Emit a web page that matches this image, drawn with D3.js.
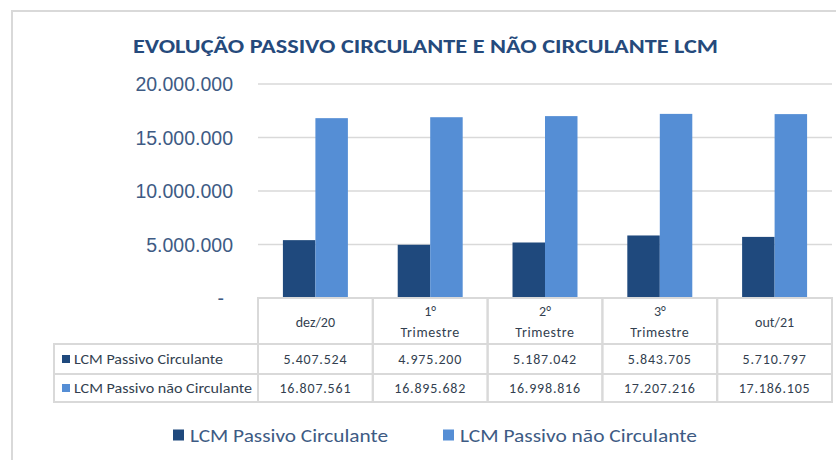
<!DOCTYPE html>
<html>
<head>
<meta charset="utf-8">
<script src="https://cdn.jsdelivr.net/npm/d3@7"></script>
<style>
  body { margin: 0; background: #fff; }
  svg { display: block; font-family: Carlito, Calibri, "Open Sans", sans-serif; }
  .grid line { stroke: #d9d9d9; stroke-width: 1.5; }
  .y.axis text { fill: #3e5b84; font-size: 19.5px; }
  .cell { fill: none; stroke: #d9d9d9; stroke-width: 2; }
  .tbl text { fill: #333f50; font-size: 14px; }
  .tbl .num { letter-spacing: 0.8px; }
</style>
</head>
<body>
<svg id="chart" width="836" height="460"></svg>
<script>
  // data
  const categories = ['dez/20', '1°\nTrimestre', '2°\nTrimestre', '3°\nTrimestre', 'out/21'];
  const seriesNames = ['LCM Passivo Circulante', 'LCM Passivo não Circulante'];
  const circulante = [5407524, 4975200, 5187042, 5843705, 5710797];
  const naoCirculante = [16807561, 16895682, 16998816, 17207216, 17186105];
  const yTicks = [0, 5000000, 10000000, 15000000, 20000000];
  const colors = ['#1f497d', '#558ed5'];

  const series = [circulante, naoCirculante];
  const locale = d3.formatLocale({decimal: ',', thousands: '.', grouping: [3], currency: ['R$', '']});
  const fmt = locale.format(',d');

  const svg = d3.select('#chart');
  const plot = {left: 258, right: 832, top: 84, bottom: 298};

  // outer chart border
  svg.append('path')
      .attr('d', 'M12,460 V11 H836')
      .attr('fill', 'none').attr('stroke', '#d9d9d9').attr('stroke-width', 2);

  svg.append('text')
      .attr('x', 133).attr('y', 53)
      .attr('textLength', 585).attr('lengthAdjust', 'spacingAndGlyphs')
      .attr('fill', '#254a7c').attr('font-weight', 'bold').attr('font-size', 20)
      .text('EVOLUÇÃO PASSIVO CIRCULANTE E NÃO CIRCULANTE LCM');

  const y = d3.scaleLinear().domain([0, 20000000]).range([plot.bottom, plot.top]);
  const x0 = d3.scaleBand().domain(categories).range([plot.left, plot.right])
      .paddingInner(0.434).paddingOuter(0.217);
  const x1 = d3.scaleBand().domain(seriesNames).range([0, x0.bandwidth()]);

  // gridlines
  svg.append('g').attr('class', 'grid')
      .selectAll('line').data(yTicks.filter(d => d > 0)).join('line')
      .attr('x1', plot.left).attr('x2', plot.right)
      .attr('y1', d => y(d)).attr('y2', d => y(d));

  // y axis labels
  const yAxis = svg.append('g').attr('class', 'y axis')
      .attr('transform', 'translate(236,0)')
      .call(d3.axisLeft(y).tickValues(yTicks).tickSize(0).tickPadding(3)
          .tickFormat(d => d === 0 ? '-' : fmt(d)));
  yAxis.select('.domain').remove();
  yAxis.selectAll('text').attr('font-family', 'inherit').attr('dy', '0.35em')
      .attr('x', d => d === 0 ? -12 : -3);

  // bars
  const groups = svg.append('g').selectAll('g').data(categories).join('g')
      .attr('transform', d => `translate(${x0(d)},0)`);
  groups.selectAll('rect')
      .data((c, i) => seriesNames.map((s, j) => ({s, j, v: series[j][i]})))
      .join('rect')
      .attr('x', d => x1(d.s))
      .attr('width', x1.bandwidth())
      .attr('y', d => y(d.v))
      .attr('height', d => y(0) - y(d.v))
      .attr('fill', d => colors[d.j]);

  // data table
  const tbl = svg.append('g').attr('class', 'tbl');
  const rowTop = [298, 344, 374, 402];
  const step = x0.step();
  categories.forEach((c, i) => {
    const cx = plot.left + step * i;
    tbl.append('rect').attr('class', 'cell')
        .attr('x', cx).attr('y', rowTop[0]).attr('width', step).attr('height', rowTop[3] - rowTop[0]);
    const lines = c.split('\n');
    const mid = x0(c) + x0.bandwidth() / 2;
    lines.forEach((t, k) => {
      tbl.append('text').attr('x', mid)
          .attr('y', lines.length === 1 ? 322 : 311 + k * 21)
          .attr('dy', '0.35em').attr('text-anchor', 'middle')
          .attr('letter-spacing', t === 'Trimestre' ? '0.6px' : null)
          .text(t);
    });
    series.forEach((vals, j) => {
      tbl.append('text').attr('class', 'num').attr('x', mid)
          .attr('y', (rowTop[j + 1] + rowTop[j + 2]) / 2)
          .attr('dy', '0.35em').attr('text-anchor', 'middle')
          .text(fmt(vals[i]));
    });
  });
  [1, 2].forEach(r => {
    tbl.append('line').attr('class', 'cell')
        .attr('x1', 54).attr('x2', plot.right).attr('y1', rowTop[r]).attr('y2', rowTop[r]);
  });
  tbl.append('rect').attr('class', 'cell')
      .attr('x', 54).attr('y', rowTop[1]).attr('width', plot.left - 54).attr('height', rowTop[3] - rowTop[1]);
  seriesNames.forEach((s, j) => {
    const cy = (rowTop[j + 1] + rowTop[j + 2]) / 2;
    tbl.append('rect').attr('x', 62).attr('y', cy - 4).attr('width', 8).attr('height', 8).attr('fill', colors[j]);
    tbl.append('text').attr('x', 74).attr('y', cy).attr('dy', '0.35em')
        .attr('textLength', j === 0 ? 149 : 178).attr('lengthAdjust', 'spacingAndGlyphs')
        .text(s);
  });

  // legend
  const legendX = [173, 443];
  const legendW = [198, 237];
  const legend = svg.append('g').selectAll('g').data(seriesNames).join('g')
      .attr('transform', (d, i) => `translate(${legendX[i]},435)`);
  legend.append('rect').attr('x', 0).attr('y', -5.5).attr('width', 11).attr('height', 11)
      .attr('fill', (d, i) => colors[i]);
  legend.append('text').attr('x', 17).attr('dy', '0.35em')
      .attr('font-size', 19).attr('fill', '#3e5b84')
      .attr('textLength', (d, i) => legendW[i]).attr('lengthAdjust', 'spacingAndGlyphs')
      .text(d => d);
</script>
</body>
</html>
